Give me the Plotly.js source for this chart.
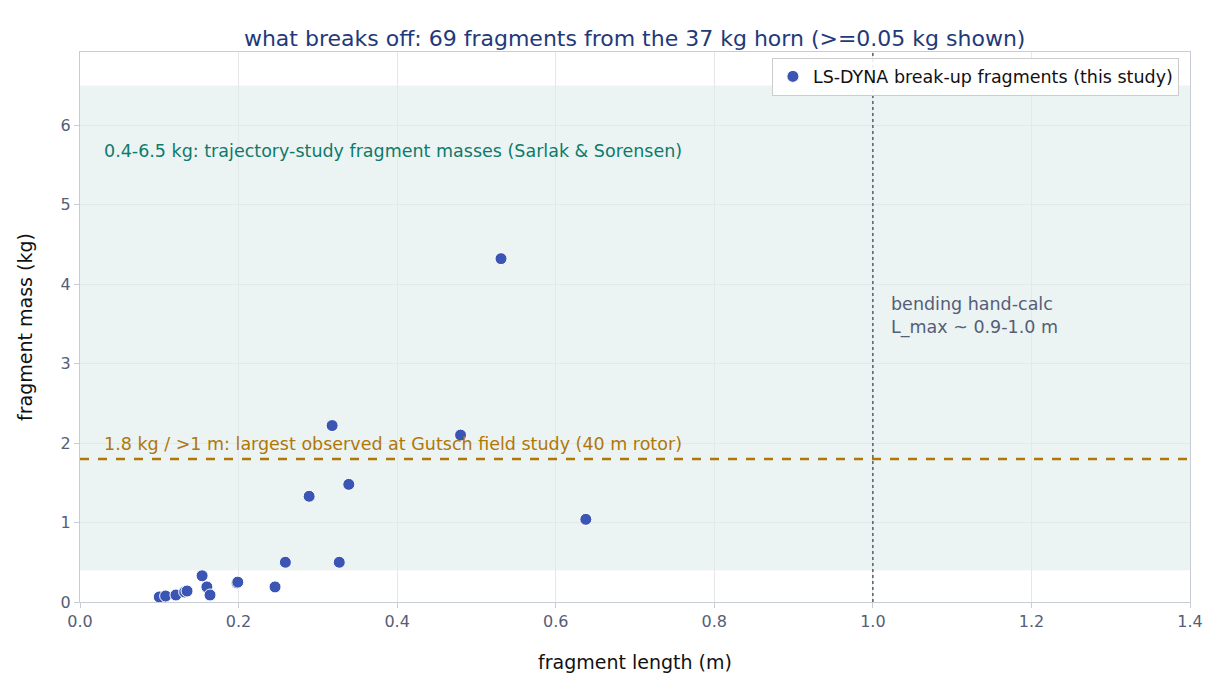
<!DOCTYPE html>
<html><head><meta charset="utf-8">
<script src="https://cdn.plot.ly/plotly-3.0.1.min.js"></script>
<style>body{margin:0;background:#fff}</style></head>
<body><div id="plot" style="width:1230px;height:690px"></div>
<script>
// fragment length (m) and mass (kg)
const frag_length = [ 0.100, 0.108, 0.121, 0.132, 0.135, 0.154, 0.160, 0.164, 0.198, 0.199,
                      0.246, 0.259, 0.289, 0.318, 0.327, 0.339, 0.480, 0.531, 0.638 ];
const frag_mass   = [ 0.063, 0.075, 0.088, 0.126, 0.138, 0.33, 0.19, 0.088, 0.24, 0.25,
                      0.19, 0.50, 1.33, 2.22, 0.50, 1.48, 2.10, 4.32, 1.04 ];
const BAND       = [ 0.4, 6.5 ];
const GUTSCH_KG  = 1.8;
const L_MAX      = 1.0;

const trace = {
	x: frag_length, y: frag_mass, mode: 'markers', type: 'scatter',
	name: 'LS-DYNA break-up fragments (this study)',
	marker: { size: 12, color: '#3a55b4', line: { color: 'white', width: 1 } }
};

const layout = {
	width: 1230, height: 690,
	margin: { l: 80, r: 40, t: 52, b: 88 },
	paper_bgcolor: 'white', plot_bgcolor: 'white',
	font: { family: 'DejaVu Sans', size: 16, color: '#555d78' },
	title: { text: 'what breaks off: 69 fragments from the 37 kg horn (>=0.05 kg shown)',
	         font: { size: 22, color: '#1f3a7a' }, x: 0.516, y: 0.955 },
	xaxis: { range: [ 0, 1.4 ], dtick: 0.2, tickformat: '.1f', gridcolor: '#e4e8e8',
	         zeroline: false, showline: true, linecolor: '#c8ccd4', mirror: true, ticks: 'outside',
	         tickcolor: '#c8ccd4',
	         title: { text: 'fragment length (m)', font: { color: '#111', size: 19 } } },
	yaxis: { range: [ 0, 6.92 ], dtick: 1, gridcolor: '#e4e8e8', zeroline: false,
	         showline: true, linecolor: '#c8ccd4', mirror: true, ticks: 'outside', tickcolor: '#c8ccd4',
	         title: { text: 'fragment mass (kg)', font: { color: '#111', size: 19 } } },
	legend: { x: 0.99, y: 0.99, xanchor: 'right', yanchor: 'top', bgcolor: 'rgba(255,255,255,0.9)',
	          bordercolor: '#ccc', borderwidth: 1, font: { color: '#111', size: 17.5 } },
	showlegend: true,
	shapes: [
		{ type: 'rect', xref: 'paper', x0: 0, x1: 1, y0: BAND[ 0 ], y1: BAND[ 1 ],
		  fillcolor: 'rgba(0,110,100,0.08)', line: { width: 0 }, layer: 'below' },
		{ type: 'line', xref: 'paper', x0: 0, x1: 1, y0: GUTSCH_KG, y1: GUTSCH_KG,
		  line: { color: '#b07708', width: 2.5, dash: 'dash' } },
		{ type: 'line', yref: 'paper', x0: L_MAX, x1: L_MAX, y0: 0, y1: 1,
		  line: { color: '#555d6a', width: 1.5, dash: 'dot' } }
	],
	annotations: [
		{ x: 0.028, y: 5.68, xanchor: 'left', showarrow: false,
		  text: '0.4-6.5 kg: trajectory-study fragment masses (Sarlak & Sorensen)',
		  font: { color: '#0d7a6c', size: 17.5 } },
		{ x: 0.028, y: 1.99, xanchor: 'left', showarrow: false,
		  text: '1.8 kg / >1 m: largest observed at Gutsch field study (40 m rotor)',
		  font: { color: '#b07708', size: 17.5 } },
		{ x: 1.02, y: 3.6, xanchor: 'left', showarrow: false, align: 'left',
		  text: 'bending hand-calc<br>L_max ~ 0.9-1.0 m', font: { color: '#555d78', size: 17.5 } }
	]
};

Plotly.newPlot( 'plot', [ trace ], layout, { displayModeBar: false } );
</script></body></html>
